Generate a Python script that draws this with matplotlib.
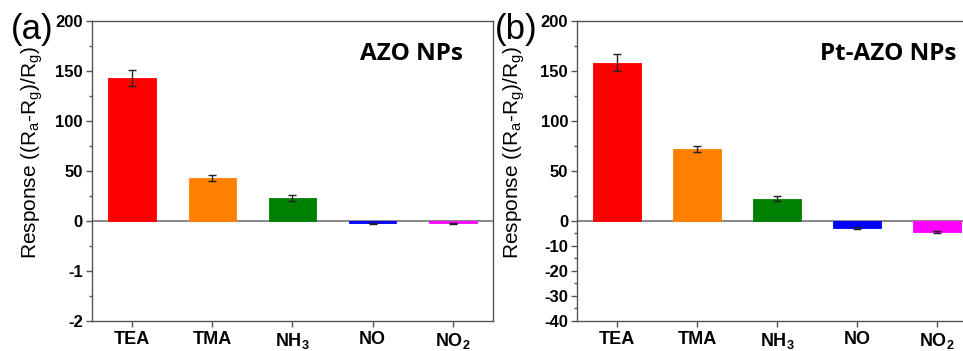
import numpy as np
import matplotlib.pyplot as plt
from matplotlib.ticker import FixedLocator

plt.rcParams['font.family'] = ['Liberation Sans', 'DejaVu Sans']

gases = ['TEA', 'TMA', r'NH$\mathregular{_3}$', 'NO', r'NO$\mathregular{_2}$']
colors = ['#ff0000', '#ff8000', '#008000', '#0000ff', '#ff00ff']

# response of the bare AZO nanoparticles
azo_resp = [143, 43, 23, -0.05, -0.05]
azo_err = [8, 3, 3, 0.01, 0.01]

# response of the Pt decorated AZO nanoparticles
pt_resp = [158, 72, 22, -2.8, -4.4]
pt_err = [8.5, 3, 2.5, 0.5, 0.5]


def split_scale(k):
    # positive side linear, negative side stretched by k
    def fwd(y):
        y = np.asarray(y, dtype=float)
        return np.where(y >= 0, y, y * k)

    def inv(z):
        z = np.asarray(z, dtype=float)
        return np.where(z >= 0, z, z / k)
    return fwd, inv


fig = plt.figure(figsize=(9.63, 3.51), dpi=100)
ax1 = fig.add_axes([0.0955, 0.0855, 0.4164, 0.8547])
ax2 = fig.add_axes([0.5992, 0.0855, 0.4154, 0.8547])

panels = [
    (ax1, azo_resp, azo_err, 50, -2, [-2, -1, 0, 50, 100, 150, 200],
     [-1.5, -0.5, 25, 75, 125, 175], 'AZO NPs', '(a)', 0.668, 0.033, -0.117),
    (ax2, pt_resp, pt_err, 2.5, -40, [-40, -30, -20, -10, 0, 50, 100, 150, 200],
     [-35, -25, -15, -5, 25, 75, 125, 175], 'Pt-AZO NPs', '(b)', 0.607, 0.536, -0.125),
]

ylabel = r'Response ((R$\mathregular{_a}$-R$\mathregular{_g}$)/R$\mathregular{_g}$)'

x = np.arange(1, 6)
for ax, resp, err, k, ymin, majors, minors, name, tag, name_x, tag_x, lab_x in panels:
    ax.set_yscale('function', functions=split_scale(k))
    ax.bar(x, resp, width=0.59, color=colors, edgecolor=colors, linewidth=0.6, zorder=2)
    ax.errorbar(x, resp, yerr=err, fmt='none', ecolor='#222222', elinewidth=1,
                capsize=3, capthick=1, zorder=3)
    ax.axhline(0, color='#808080', lw=1.3, zorder=1)
    ax.set_xlim(0.5, 5.5)
    ax.set_ylim(ymin, 200)
    ax.yaxis.set_major_locator(FixedLocator(majors))
    ax.yaxis.set_minor_locator(FixedLocator(minors))
    ax.set_yticklabels([str(v) for v in majors])
    ax.set_xticks(x)
    ax.set_xticklabels(gases)
    for lbl in ax.get_yticklabels():
        lbl.set_fontweight('bold')
        lbl.set_fontsize(12)
    for lbl in ax.get_xticklabels():
        lbl.set_fontweight('bold')
        lbl.set_fontsize(13)
    ax.tick_params(which='major', direction='out', length=4.5, width=1, color='#555555', pad=2)
    ax.tick_params(which='minor', direction='out', length=2.5, width=1, color='#555555')
    ax.tick_params(axis='x', pad=3)
    for sp in ax.spines.values():
        sp.set_color('#555555')
        sp.set_linewidth(1)
    ax.set_ylabel(ylabel, fontsize=15)
    ax.yaxis.set_label_coords(lab_x, 0.56)
    ax.text(name_x, 0.89, name, transform=ax.transAxes, fontsize=17.5,
            fontweight='bold', family=['Open Sans', 'DejaVu Sans'], va='center')
    fig.text(tag_x, 0.915, tag, fontsize=25, va='center', ha='center')

fig.savefig('out.png', dpi=100)
